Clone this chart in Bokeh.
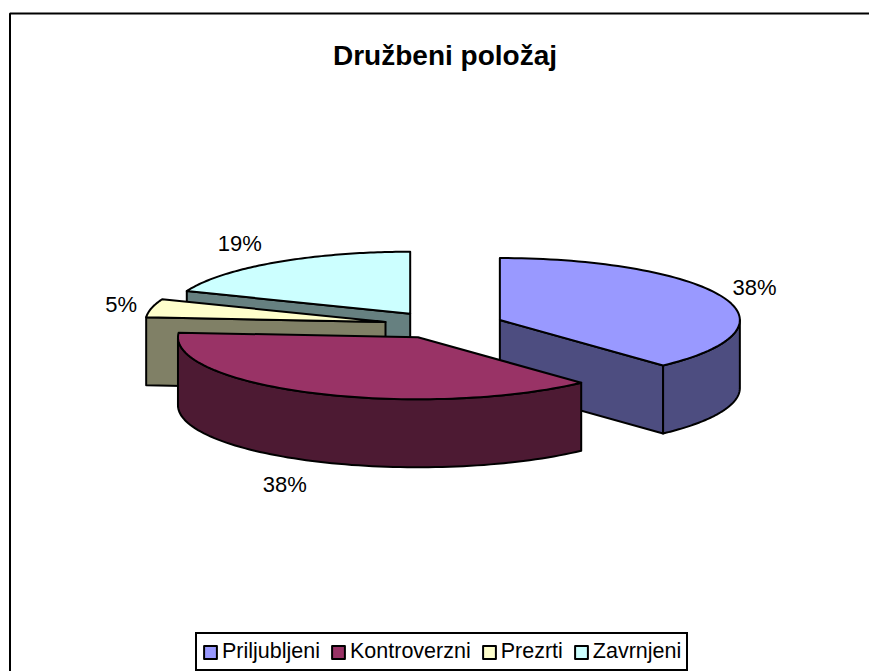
from bokeh.embed import file_html
from bokeh.resources import INLINE
from bokeh.plotting import figure
from bokeh.models import Range1d, Legend, LegendItem
from bokeh.core.properties import value
import numpy as np

title = "Družbeni položaj"
categories = ["Priljubljeni", "Kontroverzni", "Prezrti", "Zavrnjeni"]
counts = [8, 8, 1, 4]
top_colors = ["#9999FF", "#993366", "#FFFFCC", "#CCFFFF"]
side_colors = ["#4D4D80", "#4D1A33", "#808066", "#668080"]

# pie geometry in page pixels
CX, CY, RX, RY, DEPTH = 443.5, 324.5, 240.0, 62.0, 68.0
EXPLODE_X, EXPLODE_Y = 0.25, 0.22
label_fx = [1.14, 1.28, 1.13, 1.26]
label_fy = [1.45, 1.41, 1.25, 1.37]
FONT = "Liberation Sans"

p = figure(width=869, height=671, output_backend="svg", toolbar_location=None,
           x_range=Range1d(0, 869), y_range=Range1d(671, 0),
           min_border=0, outline_line_color=None, background_fill_color="white")
p.axis.visible = False
p.grid.visible = False
p.xaxis.visible = False
p.yaxis.visible = False

# chart frame
p.line([9.5, 9.5, 880], [690, 13, 13], line_color="black", line_width=2)

edges = np.cumsum([0] + counts) / sum(counts) * 2 * np.pi
geo = []
for i in range(len(counts)):
    a0, a1 = edges[i], edges[i + 1]
    mid = (a0 + a1) / 2
    ax = CX + EXPLODE_X * RX * np.sin(mid)
    ay = CY - EXPLODE_Y * RY * np.cos(mid)
    geo.append((a0, a1, mid, ax, ay))


def rim(ax, ay, a0, a1, n=80):
    t = np.linspace(a0, a1, n)
    return ax + RX * np.sin(t), ay - RY * np.cos(t)


LW = 2
top_renderers = [None] * 4
for i in [3, 2, 0, 1]:
    a0, a1, mid, ax, ay = geo[i]
    # cut face at the slice's start (slices 3, 4) or end (slice 1)
    if i in (2, 3):
        ex, ey = rim(ax, ay, a0, a0, 1)
        p.patch([ex[0], ax, ax, ex[0]], [ey[0], ay, ay + DEPTH, ey[0] + DEPTH],
                fill_color=side_colors[i], line_color="black", line_width=LW, line_join="round")
    if i == 0:
        ex, ey = rim(ax, ay, a1, a1, 1)
        p.patch([ex[0], ax, ax, ex[0]], [ey[0], ay, ay + DEPTH, ey[0] + DEPTH],
                fill_color=side_colors[i], line_color="black", line_width=LW, line_join="round")
    # outer wall, front half only
    w0, w1 = max(a0, np.pi / 2), min(a1, 3 * np.pi / 2)
    if w1 > w0:
        wx, wy = rim(ax, ay, w0, w1)
        p.patch(np.r_[wx, wx[::-1]], np.r_[wy, wy[::-1] + DEPTH],
                fill_color=side_colors[i], line_color="black", line_width=LW, line_join="round")
    # top
    tx, ty = rim(ax, ay, a0, a1)
    top_renderers[i] = p.patch(np.r_[ax, tx], np.r_[ay, ty], fill_color=top_colors[i],
                               line_color="black", line_width=LW, line_join="round")

# percentage labels
lx, ly, lt = [], [], []
for i, (a0, a1, mid, ax, ay) in enumerate(geo):
    front = np.cos(mid) < 0 and np.sin(mid) < 0
    lx.append(ax + RX * np.sin(mid) * label_fx[i])
    ly.append(ay - RY * np.cos(mid) * label_fy[i] + (DEPTH if front else 0))
    lt.append(f"{round(100 * counts[i] / sum(counts))}%")
p.text(lx, ly, text=lt, text_font=value(FONT), text_font_size="22px", text_color="black",
       text_align="center", text_baseline="middle")

# title
p.text([444.5], [55], text=[title], text_font=value(FONT), text_font_size="28px",
       text_font_style="bold", text_color="black", text_align="center", text_baseline="middle")

legend = Legend(items=[LegendItem(label=c, renderers=[r]) for c, r in zip(categories, top_renderers)],
                orientation="horizontal", location=(195, 0), border_line_color="black", border_line_width=2,
                border_line_alpha=1, background_fill_alpha=1, label_text_font=FONT, label_text_font_size="21.5px",
                label_text_color="black", glyph_width=16, glyph_height=16, label_standoff=4,
                spacing=10, padding=5, margin=0, label_height=20)
p.add_layout(legend, "center")

open("out.html", "w").write(file_html(p, INLINE))
